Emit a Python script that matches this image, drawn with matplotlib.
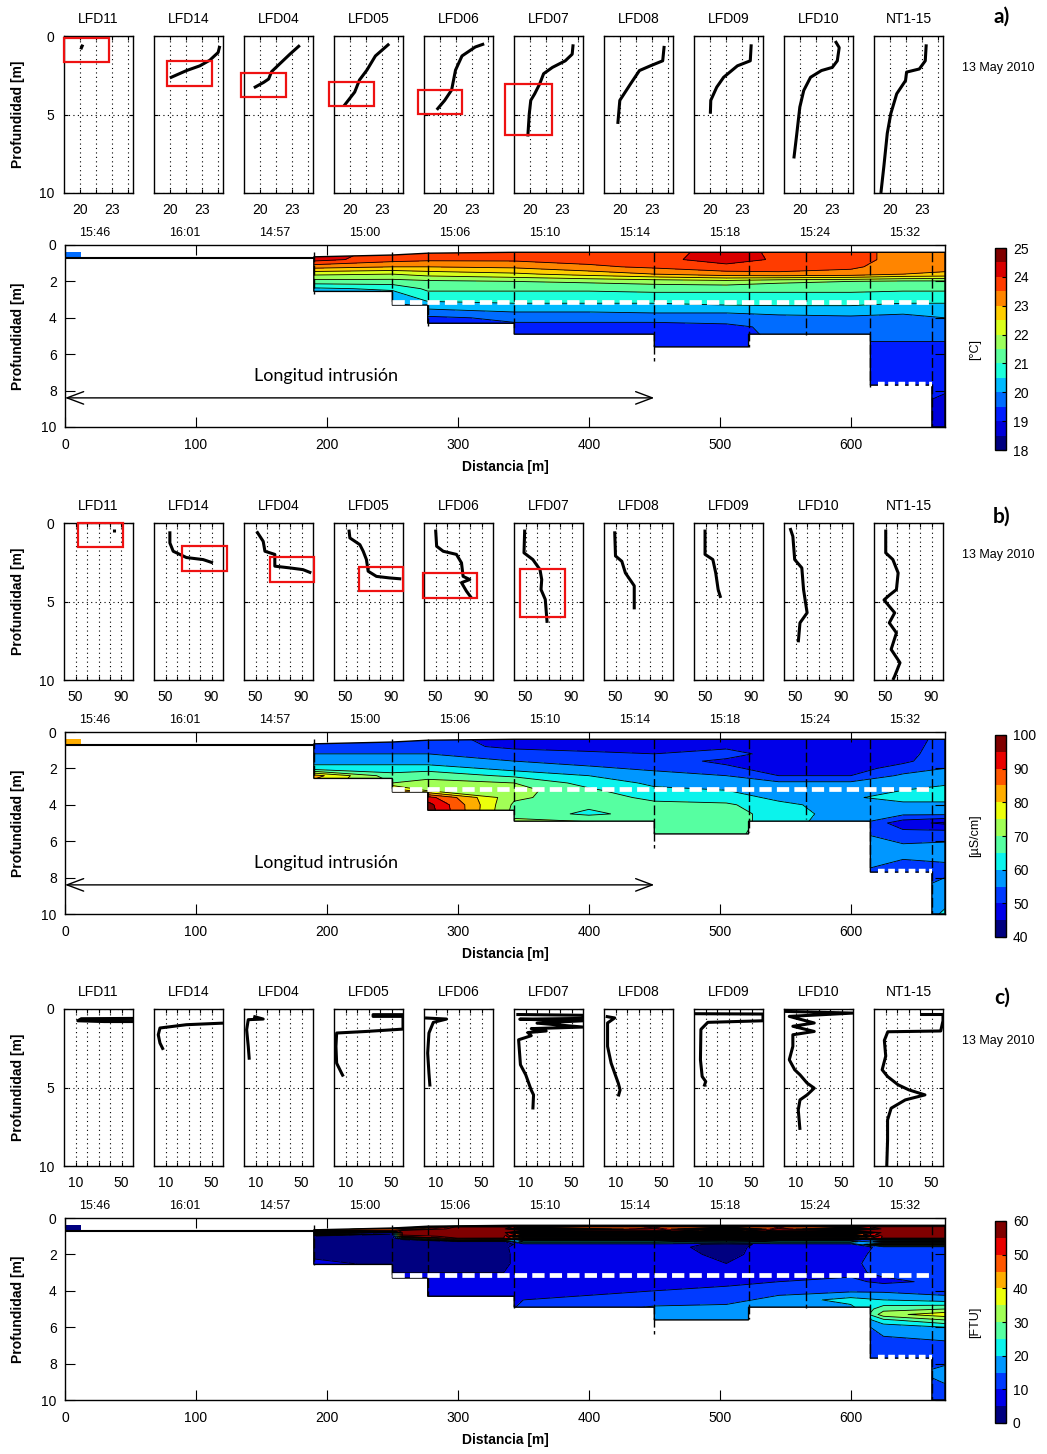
import numpy as np
import matplotlib
matplotlib.use("Agg")
import matplotlib.pyplot as plt
from matplotlib.patches import Polygon, Rectangle
from matplotlib.colors import Normalize

plt.rcParams['font.family'] = ['Liberation Sans', 'DejaVu Sans']

W, H = 1047, 1454

# stations along the transect
stations = ['LFD11', 'LFD14', 'LFD04', 'LFD05', 'LFD06', 'LFD07', 'LFD08', 'LFD09', 'LFD10', 'NT1-15']
times = ['15:46', '16:01', '14:57', '15:00', '15:06', '15:10', '15:14', '15:18', '15:24', '15:32']
station_dist = [0, 190, 250, 277, 343, 450, 522, 566, 615, 662]

# ---- profiles: temperature
temp_val = [
    [20.27, 20.08],
    [24.7, 24.54, 23.76, 22.82, 21.57, 19.99],
    [23.76, 22.82, 21.84, 21.1, 20.82, 20.36, 19.43],
    [23.7, 22.4, 21.6, 20.9, 20.45, 19.43],
    [24.17, 23.33, 22.08, 21.47, 21.1, 20.45, 19.7],
    [24.07, 23.98, 23.33, 22.12, 21.29, 20.92, 20.45, 20.08, 19.94, 19.8],
    [24.17, 24.03, 22.87, 21.84, 21.0, 19.99, 19.8],
    [23.89, 23.8, 22.59, 21.29, 20.64, 20.08, 20.04],
    [23.33, 23.7, 23.52, 23.05, 22.03, 21.0, 20.36, 19.99, 19.71, 19.43],
    [23.42, 23.33, 22.77, 21.57, 21.47, 20.64, 20.08, 19.75, 19.43, 19.15],
]
temp_dep = [
    [0.55, 0.85],
    [0.63, 1.05, 1.54, 1.9, 2.2, 2.67],
    [0.59, 1.16, 1.79, 2.27, 2.74, 2.95, 3.3],
    [0.5, 1.27, 2.17, 2.8, 3.57, 4.46],
    [0.5, 0.7, 1.27, 2.17, 3.44, 4.1, 4.7],
    [0.53, 1.16, 1.58, 2.0, 2.4, 3.05, 3.68, 4.1, 4.95, 6.4],
    [0.63, 1.58, 1.9, 2.2, 3.05, 4.1, 5.6],
    [0.53, 1.58, 1.9, 2.63, 3.26, 4.1, 4.95],
    [0.32, 0.74, 1.58, 2.0, 2.2, 2.63, 3.47, 4.53, 6.2, 7.8],
    [0.53, 1.58, 2.1, 2.3, 2.84, 3.68, 4.95, 6.2, 8.3, 10.0],
]

# ---- profiles: conductivity
cond_val = [
    [83.5, 83.5],
    [53.8, 53.8, 56.7, 68.2, 82.7, 91.3],
    [51, 56.7, 58.2, 66.8, 66.8, 79.8, 91.3, 98.5],
    [53, 53.8, 62.5, 65.4, 68.2, 69.7, 76.9, 88.4, 98.5],
    [50.1, 51, 56.7, 68.2, 72.6, 74, 79.8, 72.6, 76.9, 81.2],
    [49.3, 48.7, 56.4, 62.6, 64.1, 63.5, 67.2, 68.8],
    [49.3, 50, 55.5, 58.6, 66.3, 66.3],
    [49.6, 49.6, 56.4, 58.9, 61, 63.2],
    [45.3, 47.7, 49.3, 55.5, 57, 60.1, 53.9, 52.4],
    [50.2, 50.2, 56.4, 61, 59.5, 53.3, 48.7, 58, 53.3, 59.5, 54.9, 62.6, 58, 56.4],
]
cond_dep = [
    [0.4, 0.6],
    [0.53, 1.27, 1.8, 2.2, 2.33, 2.54],
    [0.53, 1.17, 1.8, 2.0, 2.75, 2.86, 2.97, 3.18],
    [0.42, 0.95, 1.38, 1.8, 2.33, 3.07, 3.4, 3.5, 3.56],
    [0.42, 1.48, 1.8, 2.0, 2.54, 3.4, 3.6, 3.8, 4.34, 4.77],
    [0.42, 1.9, 2.33, 2.97, 3.6, 4.24, 4.87, 6.36],
    [0.53, 2.1, 2.44, 3.18, 4.0, 5.5],
    [0.42, 2.0, 2.33, 3.18, 4.24, 4.77],
    [0.32, 0.85, 2.33, 2.86, 4.24, 5.72, 6.36, 7.6],
    [0.42, 1.9, 2.33, 3.18, 4.24, 4.6, 4.9, 5.72, 6.36, 7.0, 8.05, 8.9, 9.75, 10.0],
]

# ---- profiles: turbidity
turb_val = [
    [60, 15, 12, 35, 60],
    [60, 28.2, 5.2, 3.7, 5.2, 8.1],
    [8.1, 16.7, 3.7, 2.3, 3.7, 4.6],
    [60, 34, 34, 60, 60, 28.2, 2.3, 1.7, 2.3, 6.6, 8.1],
    [0.9, 19.6, 8.1, 4.3, 3.2, 4.3, 5.2],
    [2, 60, 60, 5, 60, 20, 60, 15, 28, 12, 15, 4, 5.6, 10.2, 14.9, 17, 16.4],
    [1.5, 9.3, 3.1, 3.1, 6.2, 12.4, 14, 12.4],
    [0, 60, 60, 12, 6, 5.6, 7.1, 10.2, 8.7],
    [0, 60, 4.6, 26.3, 7.7, 26.3, 7.7, 7.7, 4.6, 9.3, 13.9, 20.1, 26.3, 20.1, 13.9, 12.4, 13.9],
    [40, 60, 60, 58, 12, 9, 10.2, 7.1, 11.8, 21, 30.3, 44.3, 27.2, 14.9, 11.8, 11.8, 11.1],
]
turb_dep = [
    [0.6, 0.62, 0.75, 0.8, 0.8],
    [0.9, 1.0, 1.21, 1.64, 2.17, 2.6],
    [0.47, 0.64, 0.68, 1.32, 2.38, 3.23],
    [0.36, 0.36, 0.47, 0.47, 1.28, 1.43, 1.53, 2.38, 3.45, 4.09, 4.3],
    [0.57, 0.64, 0.85, 1.53, 2.81, 4.09, 4.94],
    [0.35, 0.4, 0.6, 0.65, 0.75, 0.9, 1.15, 1.25, 1.4, 1.5, 1.7, 1.96, 3.55, 4.19, 5.15, 5.47, 6.4],
    [0.47, 0.57, 0.89, 2.38, 3.45, 4.72, 5.15, 5.57],
    [0.3, 0.32, 0.75, 0.85, 1.3, 3.23, 4.3, 4.62, 4.94],
    [0.15, 0.26, 0.47, 0.89, 1.1, 1.43, 1.64, 2.38, 3.23, 3.87, 4.19, 4.72, 5.04, 5.47, 5.79, 6.43, 7.7],
    [0.35, 0.35, 0.75, 1.4, 1.45, 2.0, 3.0, 3.87, 4.3, 4.83, 5.15, 5.47, 5.79, 6.32, 7.06, 8.34, 10.0],
]

# highlight boxes (x0, z0, x1, z1) on the first six casts
temp_boxes = [(18.5, 0.13, 22.74, 1.66), (19.72, 1.59, 23.96, 3.18), (18.22, 2.36, 22.46, 3.89),
              (18.03, 2.93, 22.27, 4.46), (17.93, 3.44, 22.08, 4.97), (17.65, 3.06, 22.08, 6.31)]
cond_boxes = [(52.2, 0.0, 91.3, 1.5), (64.3, 1.45, 103.5, 3.04), (62.6, 2.15, 100.9, 3.75),
              (61.7, 2.8, 100.0, 4.3), (39.0, 3.2, 85.9, 4.8), (45.2, 2.9, 84.3, 6.0)]

# ---- sections (rows = depth, cols = distance)
sec_x_ab = [190, 250, 277, 343, 400, 450, 505, 545, 600, 640, 672]
sec_z_ab = [0.4, 0.8, 1.2, 1.6, 2.0, 2.4, 2.8, 3.2, 3.6, 4.0, 4.5, 5.0, 5.6, 6.5, 7.5, 8.5, 10.0]
temp_sec = [
    [24.3, 23.8, 23.7, 23.7, 23.8, 23.8, 24.2, 23.9, 23.7, 23.3, 23.3],
    [24.2, 23.7, 23.6, 23.6, 23.7, 23.8, 24.3, 23.9, 23.7, 23.3, 23.3],
    [23.2, 23.0, 23.0, 23.1, 23.4, 23.6, 23.8, 23.7, 23.6, 23.2, 23.2],
    [22.1, 22.0, 22.2, 22.4, 22.7, 23.0, 23.3, 23.4, 23.3, 23.0, 22.9],
    [21.3, 21.3, 21.4, 21.5, 21.6, 21.7, 21.8, 21.6, 21.5, 21.4, 21.4],
    [20.4, 20.6, 21.1, 21.1, 21.1, 21.2, 21.2, 21.2, 21.2, 21.1, 21.1],
    [19.9, 20.2, 20.8, 20.8, 20.8, 20.8, 20.8, 20.8, 20.8, 20.8, 20.8],
    [19.7, 19.9, 20.4, 20.5, 20.5, 20.5, 20.6, 20.6, 20.6, 20.5, 20.5],
    [19.6, 19.7, 19.9, 20.1, 20.1, 20.2, 20.2, 20.3, 20.3, 20.1, 20.2],
    [19.5, 19.6, 19.4, 19.6, 19.6, 19.6, 19.6, 19.8, 19.9, 19.9, 20.0],
    [19.4, 19.4, 19.3, 19.4, 19.4, 19.4, 19.45, 19.55, 19.7, 19.7, 19.8],
    [19.3, 19.3, 19.2, 19.3, 19.3, 19.3, 19.3, 19.6, 19.6, 19.6, 19.6],
    [19.3, 19.3, 19.2, 19.3, 19.3, 19.3, 19.3, 19.4, 19.4, 19.4, 19.4],
    [19.3, 19.3, 19.2, 19.3, 19.3, 19.3, 19.3, 19.3, 19.3, 19.3, 19.3],
    [19.2, 19.2, 19.2, 19.2, 19.2, 19.2, 19.2, 19.2, 19.2, 19.2, 19.1],
    [19.1, 19.1, 19.1, 19.1, 19.1, 19.1, 19.1, 19.1, 19.1, 19.1, 18.95],
    [19.0, 19.0, 19.0, 19.0, 19.0, 19.0, 19.0, 19.0, 19.0, 19.0, 18.8],
]
cond_sec = [
    [51, 52, 52, 48, 47, 47, 47, 46, 47, 47, 52],
    [52, 53, 52, 49, 48, 48, 49, 49, 48, 48, 52],
    [55, 55, 55, 52, 51, 50, 52, 48, 47, 48, 53],
    [58, 58, 57, 55, 53, 52, 49, 47, 47, 49, 53],
    [62, 62, 63, 58, 56, 54, 51, 48, 48, 52, 55],
    [82, 67, 68, 64, 60, 57, 55, 50, 50, 56, 58],
    [78, 70, 72, 70, 63, 59, 57, 56, 56, 57, 59],
    [75, 84, 74, 72, 66, 61, 60, 58, 57, 60, 62],
    [74, 88, 92, 71, 67, 64, 62, 59, 59, 63, 63],
    [74, 88, 97, 69, 66, 66, 66, 61, 58, 58, 58],
    [74, 88, 98, 68, 64, 67, 67, 63, 57, 56, 56],
    [74, 88, 98, 72, 71, 68, 68, 62, 57, 47, 44],
    [74, 88, 98, 72, 71, 68, 68, 60, 56, 52, 53],
    [74, 88, 98, 72, 71, 68, 68, 60, 56, 57, 57],
    [74, 88, 98, 72, 71, 68, 68, 60, 56, 53, 54],
    [74, 88, 98, 72, 71, 68, 68, 60, 56, 54, 56],
    [74, 88, 98, 72, 71, 68, 68, 60, 56, 54, 61],
]
sec_x_c = [190, 250, 258, 300, 335, 350, 450, 505, 545, 600, 625, 672]
sec_z_c = [0.4, 0.5, 0.6, 0.7, 0.8, 0.9, 1.0, 1.1, 1.2, 1.3, 1.45, 1.6, 2.0, 2.5, 3.0, 3.5,
           4.0, 4.5, 5.0, 5.3, 5.6, 6.0, 6.5, 7.5, 8.5, 10.0]
turb_sec = [
    [40, 30, 20, 20, 20, 5, 5, 5, 5, 5, 40, 45],
    [5, 4, 10, 58, 58, 50, 50, 50, 50, 50, 58, 58],
    [40, 45, 40, 59, 59, 3, 58, 3, 58, 4, 59, 59],
    [58, 50, 58, 59, 59, 58, 58, 45, 58, 55, 59, 59],
    [3, 3, 58, 59, 59, 4, 3, 3, 3, 3, 59, 59],
    [35, 4, 58, 59, 58, 45, 45, 40, 45, 45, 58, 58],
    [2, 2, 50, 58, 57, 3, 3, 3, 3, 3, 57, 57],
    [2, 2, 25, 56, 55, 40, 40, 35, 40, 40, 56, 56],
    [2, 2, 3, 40, 35, 3, 3, 3, 3, 3, 25, 30],
    [2, 2, 2, 4, 4, 25, 25, 20, 25, 25, 3, 3],
    [2, 2, 2, 3, 4, 6, 7, 4, 6, 7, 40, 40],
    [3, 3, 3, 3, 4, 8, 7, 3, 8, 8, 11, 11],
    [4, 3, 3, 3, 4, 7, 7, 4, 7, 8, 12, 12],
    [6, 4, 4, 3, 4, 7, 7, 5, 7, 9, 12, 12],
    [7, 5, 5, 5, 5, 8, 8, 7, 8, 9, 11, 11],
    [7, 6, 6, 7, 7, 8, 9, 9, 10, 11, 9, 11],
    [7, 6, 6, 8, 8, 9, 10, 11, 13, 14, 14, 12],
    [7, 6, 6, 8, 9, 10, 13, 13, 17, 22, 20, 18],
    [7, 6, 6, 8, 9, 11, 16, 17, 15, 18, 28, 30],
    [7, 6, 6, 8, 9, 11, 17, 17, 14, 15, 33, 38],
    [7, 6, 6, 8, 9, 11, 18, 17, 13, 13, 24, 30],
    [7, 6, 6, 8, 9, 11, 12, 12, 12, 12, 17, 20],
    [7, 6, 6, 8, 9, 11, 12, 12, 12, 12, 15, 16],
    [7, 6, 6, 8, 9, 11, 12, 12, 12, 12, 12, 12],
    [7, 6, 6, 8, 9, 11, 12, 12, 12, 12, 12, 17],
    [7, 6, 6, 8, 9, 11, 12, 12, 12, 12, 12, 12],
]
# surface value of the shallow cast near x=0
lfd11_patch = [19.7, 83, 2]

# outline of the sampled area
top_x = [190, 250, 277, 343, 672]
top_z = [0.65, 0.55, 0.45, 0.4, 0.4]
bot_edges = [190, 250, 277, 343, 450, 522, 615, 662, 672]
bot_depth = [2.55, 3.3, 4.3, 4.9, 5.6, 4.9, 7.7, 10.0]


def fig_box(left, top, width, height):
    return [left / W, 1 - (top + height) / H, width / W, height / H]


def draw_profiles(off, vals, deps, xlim, xticks, xlabels, boxes):
    for i in range(10):
        ax = fig.add_axes(fig_box(64 + 90 * i, 36 + off, 69, 157))
        ax.plot(vals[i], deps[i], color='k', lw=2.2, solid_capstyle='butt')
        ax.set_xlim(xlim)
        ax.set_ylim(10, 0)
        ax.set_xticks(xticks)
        ax.set_xticklabels(xlabels)
        ax.set_yticks([0, 5, 10])
        if i > 0:
            ax.set_yticklabels([])
        ax.grid(True, color='k', lw=0.8, linestyle=(0, (1, 3)))
        ax.tick_params(direction='in', length=3, top=True, right=True, labelsize=10, pad=7)
        for s in ax.spines.values():
            s.set_linewidth(1)
        if i < len(boxes):
            x0, z0, x1, z1 = boxes[i]
            ax.add_patch(Rectangle((x0, z0), x1 - x0, z1 - z0, fill=False, edgecolor='#ee1111',
                                   lw=1.6, clip_on=False, zorder=5))
        cx = 64 + 90 * i + 34.5
        fig.text(cx / W, 1 - (19 + off) / H, stations[i], ha='center', va='center', fontsize=10)
        fig.text((cx - 4) / W, 1 - (233 + off) / H, times[i], ha='center', va='center', fontsize=9)
        if i == 0:
            fig.text(18 / W, 1 - (114 + off) / H, 'Profundidad [m]', rotation=90, ha='center',
                     va='center', fontsize=10, fontweight='bold')


def draw_section(off, sx, sz, table, vmin, vmax, step, ticks, unit, lfd11_val, arrow):
    ax = fig.add_axes(fig_box(65, 245 + off, 880, 182))
    levels = np.arange(vmin, vmax + step / 2, step)
    cmap = plt.get_cmap('jet', len(levels) - 1)
    X, Z = np.meshgrid(sx, sz)
    V = np.array(table)

    verts = list(zip(top_x, top_z))
    for i in reversed(range(len(bot_depth))):
        verts += [(bot_edges[i + 1], bot_depth[i]), (bot_edges[i], bot_depth[i])]
    clip = Polygon(verts, closed=True, transform=ax.transData)

    cs = ax.contourf(X, Z, V, levels=levels, cmap=cmap, vmin=vmin, vmax=vmax)
    cs.set_clip_path(clip)
    cl = ax.contour(X, Z, V, levels=levels, colors='k', linewidths=0.6)
    cl.set_clip_path(clip)
    ax.add_patch(Polygon(verts, closed=True, fill=False, edgecolor='k', lw=1, zorder=3))

    # shallow cast at the upstream end
    norm = Normalize(vmin, vmax)
    ax.add_patch(Rectangle((0, 0.4), 12, 0.3, facecolor=cmap(norm(lfd11_val)), edgecolor='none'))
    ax.plot([0, 190], [0.7, 0.7], color='k', lw=1.5)

    # cast positions
    for i in range(1, 10):
        ax.plot([station_dist[i], station_dist[i]], [0.4, deps_max[i]], color='k', lw=1,
                dashes=(7, 2.5), zorder=4)

    ax.plot([250, 662], [3.15, 3.15], color='white', lw=3.4, dashes=(2.6, 1.1), zorder=6)
    ax.plot([621, 662], [7.62, 7.62], color='white', lw=3.2, dashes=(1.5, 0.8), zorder=6)

    if arrow:
        ax.annotate('', xy=(0, 8.4), xytext=(450, 8.4),
                    arrowprops=dict(arrowstyle='<->,head_length=1.2,head_width=0.45',
                                    lw=1, color='k', shrinkA=0, shrinkB=0))
        ax.text(199, 7.2, 'Longitud intrusión', ha='center', va='center', fontsize=13,
                family=['Lato', 'DejaVu Sans'])

    ax.set_xlim(0, 672)
    ax.set_ylim(10, 0)
    ax.set_xticks(np.arange(0, 601, 100))
    ax.set_yticks(np.arange(0, 11, 2))
    ax.tick_params(direction='in', length=7, top=True, right=True, labelsize=10)
    ax.tick_params(axis='x', pad=8)
    ax.tick_params(axis='y', pad=6)
    for s in ax.spines.values():
        s.set_linewidth(1)

    fig.text(18 / W, 1 - (336 + off) / H, 'Profundidad [m]', rotation=90, ha='center',
             va='center', fontsize=10, fontweight='bold')
    fig.text(505 / W, 1 - (467 + off) / H, 'Distancia [m]', ha='center', va='center',
             fontsize=10, fontweight='bold')

    cax = fig.add_axes(fig_box(995, 248 + off, 11, 202))
    cb = fig.colorbar(cs, cax=cax, ticks=ticks)
    cb.outline.set_linewidth(1)
    cax.tick_params(direction='in', length=3, labelsize=10, pad=5)
    fig.text(975 / W, 1 - (349 + off) / H, unit, rotation=90, ha='center', va='center', fontsize=9)


fig = plt.figure(figsize=(W / 100, H / 100), dpi=100)

offsets = [0, 487, 973]
panel_label_y = [17, 517, 998]

deps_max = [max(d) for d in temp_dep]
draw_profiles(offsets[0], temp_val, temp_dep, (18.5, 25), [20, 21.5, 23, 24.5], ['20', '', '23', ''], temp_boxes)
draw_section(offsets[0], sec_x_ab, sec_z_ab, temp_sec, 18, 25, 0.5, np.arange(18, 26, 1), '[°C]',
             lfd11_patch[0], True)

deps_max = [max(d) for d in cond_dep]
draw_profiles(offsets[1], cond_val, cond_dep, (40, 100), [50, 60, 70, 80, 90], ['50', '', '', '', '90'], cond_boxes)
draw_section(offsets[1], sec_x_ab, sec_z_ab, cond_sec, 40, 100, 5, np.arange(40, 101, 10), '[µS/cm]',
             lfd11_patch[1], True)

deps_max = [max(d) for d in turb_dep]
draw_profiles(offsets[2], turb_val, turb_dep, (0, 60), [10, 20, 30, 40, 50], ['10', '', '', '', '50'], [])
draw_section(offsets[2], sec_x_c, sec_z_c, turb_sec, 0, 60, 5, np.arange(0, 61, 10), '[FTU]',
             lfd11_patch[2], False)

for label, off, ly in zip(['a)', 'b)', 'c)'], offsets, panel_label_y):
    fig.text(1002 / W, 1 - ly / H, label, ha='center', va='center', fontsize=15,
             fontweight='bold', family=['Lato', 'DejaVu Sans'])
    fig.text(998 / W, 1 - (68 + off) / H, '13 May 2010', ha='center', va='center', fontsize=9)

fig.savefig('out.png', dpi=100)
